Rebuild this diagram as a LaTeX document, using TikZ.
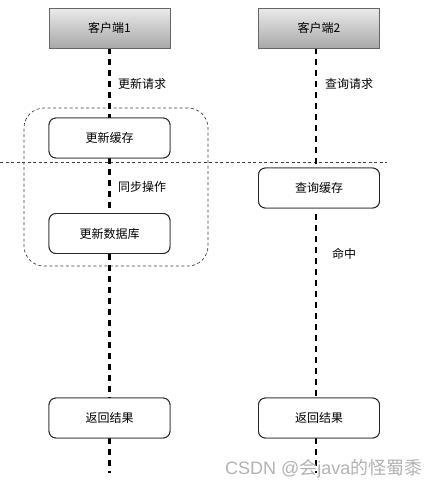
\documentclass[tikz,border=0pt]{standalone}
\usepackage{fontspec}
\setmainfont{Noto Sans CJK SC}
\newfontfamily\wmfont{Liberation Sans}
\newfontfamily\cjk{Noto Sans CJK SC}
\begin{document}
\begin{tikzpicture}[x=1pt,y=-1pt,
  client/.style={draw=black!60, line width=0.8pt, top color=black!8, bottom color=black!34,
    minimum width=121pt, minimum height=40pt, inner sep=0pt, font=\fontsize{12}{14}\selectfont},
  proc/.style={draw=black!85, fill=white, line width=0.9pt, rounded corners=7pt,
    minimum width=121pt, minimum height=40pt, inner sep=0pt, font=\fontsize{12}{14}\selectfont},
  life/.style={line width=2.6pt, dash pattern=on 6pt off 5pt, black},
  thindash/.style={line width=0.7pt, dash pattern=on 3pt off 2.5pt, black!75},
  lbl/.style={anchor=west, inner sep=0pt, font=\fontsize{12}{14}\selectfont}]
\useasboundingbox (0,0) rectangle (447,491);
% container and separator
\node[draw=black!75, line width=0.7pt, dash pattern=on 3pt off 2.5pt, rounded corners=20pt,
  minimum width=184pt, minimum height=158pt, inner sep=0pt] (group) at (116,187) {};
\coordinate (sepL) at (0,162);
\coordinate (sepR) at (387,162);
\draw[thindash] (sepL) -- (sepR);
% nodes
\node[client] (c1) at (109.5,28) {客户端1};
\node[client] (c2) at (319,28) {客户端2};
\node[proc] (uc) at (109.5,138) {更新缓存};
\node[proc] (udb) at (109.5,233.5) {更新数据库};
\node[proc] (qc) at (319,188) {查询缓存};
\node[proc] (r1) at (109.5,418) {返回结果};
\node[proc] (r2) at (319,418) {返回结果};
\coordinate (e1) at (109.5,473);
\coordinate (e2) at (316,473);
% lifelines
\draw[life] (c1.south) -- (uc.north);
\draw[life] (uc.south) -- (udb.north);
\draw[life] (udb.south) -- (r1.north);
\draw[life] (r1.south) -- (e1);
\draw[life] ([xshift=-3pt]c2.south) -- ([xshift=-3pt]qc.north);
\draw[life] ([xshift=-3pt,yshift=-6pt]qc.south) -- ([xshift=-3pt]r2.north);
\draw[life] ([xshift=-3pt]r2.south) -- (e2);
% redraw boxes above lines
\node[client] at (c1) {客户端1};
\node[client] at (c2) {客户端2};
\node[proc] at (uc) {更新缓存};
\node[proc] at (udb) {更新数据库};
\node[proc] at (qc) {查询缓存};
\node[proc] at (r1) {返回结果};
\node[proc] at (r2) {返回结果};
% labels
\node[lbl] (l1) at (118,84) {更新请求};
\node[lbl] (l2) at (325,84) {查询请求};
\node[lbl] (l3) at (118,187) {同步操作};
\node[lbl] (l4) at (332,254) {命中};
% watermark
\node[anchor=west, inner sep=0pt, text=black!30, font=\fontsize{18}{20}\selectfont] (wm) at (225,469) {\wmfont CSDN @\cjk 会\wmfont java\cjk 的怪蜀黍};
\end{tikzpicture}
\end{document}
